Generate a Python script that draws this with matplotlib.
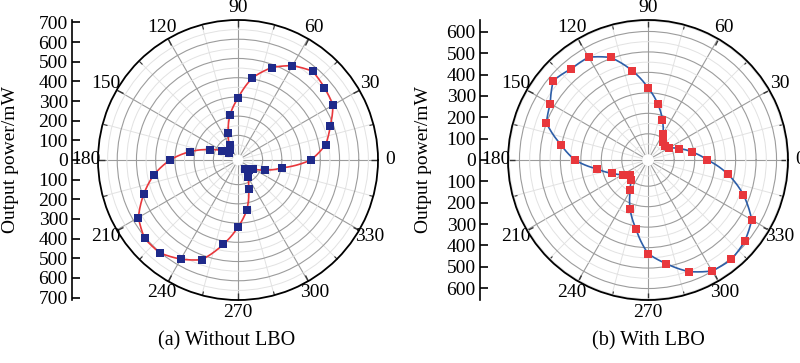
import numpy as np
import matplotlib
matplotlib.use("Agg")
import matplotlib.pyplot as plt

plt.rcParams['font.family'] = ['Liberation Serif', 'DejaVu Serif']

# polarization angle in degrees, one point every 10 degrees
angles = np.arange(0, 360, 10)

# (a) without LBO, output power in mW
power_a = [350, 435, 482, 542, 558, 575, 538, 483, 406, 293,
           210, 120, 60, 40, 30, 70, 128, 223, 325, 416,
           494, 570, 606, 603, 567, 524, 418, 320, 235, 134,
           73, 31, 50, 65, 124, 205]

# (b) with LBO, output power in mW
power_b = [262, 192, 135, 88, 80, 84, 118, 178, 249, 325,
           415, 505, 552, 554, 576, 523, 500, 404, 329, 223,
           161, 115, 87, 98, 144, 227, 312, 429, 486, 552,
           598, 606, 589, 557, 468, 368]

theta_labels = ['0', '30', '60', '90', '120', '150',
                '180', '210', '240', '270', '300', '330']

W, H = 800, 363
fig = plt.figure(figsize=(W / 100, H / 100), dpi=100)


def polar_panel(cx, rmax, vals, mcolor, lcolor):
    R = 140
    ax = fig.add_axes([(cx - R) / W, (H - 160 - R) / H, 2 * R / W, 2 * R / H],
                      projection='polar')
    ax.set_rorigin(-28)
    ax.set_rlim(0, rmax)
    ax.set_xticks(np.deg2rad(np.arange(0, 360, 30)))
    ax.set_xticklabels(theta_labels, fontsize=14)
    ax.set_xticks(np.deg2rad(np.arange(0, 360, 15)), minor=True)
    ax.set_yticks(np.arange(100, rmax, 100))
    ax.set_yticks(np.arange(50, rmax, 100), minor=True)
    ax.set_yticklabels([])
    # tick1 sits on the inner hole, tick2 on the outer circle
    ax.tick_params(axis='x', which='major', pad=2, direction='in', length=5,
                   width=1, color='#333333', tick1On=False, tick2On=True)
    ax.tick_params(axis='x', which='minor', direction='in', length=3,
                   width=0.8, color='#333333', tick1On=False, tick2On=True)
    ax.tick_params(axis='y', which='both', length=0)
    ax.grid(True, which='major', color='#9c9c9c', lw=0.8)
    ax.grid(True, which='minor', color='#e2e2e2', lw=0.7)
    ax.spines['polar'].set_linewidth(1.3)
    ax.spines['polar'].set_color('black')
    # draw() switches the inner spine back on, so just make it invisible ink
    ax.spines['inner'].set_color('none')

    th = np.deg2rad(np.append(angles, 360))
    r = np.append(vals, vals[0])
    ln, = ax.plot(th, r, color=lcolor, lw=1.2, zorder=3)
    # let the polar transform bend each segment instead of a straight chord
    ln.get_path()._interpolation_steps = 20
    ax.plot(np.deg2rad(angles), vals, 's', color=mcolor, ms=5.5, mew=0, zorder=4)
    return ax


def side_axis(x, lim, ticks, label_x):
    ax = fig.add_axes([x / W, (H - 300) / H, 0.02, 280 / H])
    ax.set_ylim(-lim, lim)
    ax.set_yticks(ticks)
    ax.set_yticklabels([str(abs(t)) for t in ticks], fontsize=14)
    for s in ['top', 'right', 'bottom']:
        ax.spines[s].set_visible(False)
    ax.spines['left'].set_linewidth(1.2)
    ax.set_xticks([])
    ax.patch.set_alpha(0)
    ax.tick_params(axis='y', direction='in', length=6, width=1.2, pad=3)
    fig.text(label_x / W, 1 - 160 / H, 'Output power/mW', rotation=90,
             ha='center', va='center', fontsize=14)


polar_panel(238, 700, power_a, '#1f2a8a', '#e8373c')
polar_panel(648, 656, power_b, '#e8373c', '#2d5ea8')

side_axis(72, 712, np.arange(-700, 701, 100), 11)
side_axis(480, 656, np.arange(-600, 601, 100), 423)

fig.text(227 / W, 1 - 341 / H, '(a) Without LBO', ha='center', va='center', fontsize=14.5)
fig.text(648 / W, 1 - 341 / H, '(b) With LBO', ha='center', va='center', fontsize=14.5)

fig.savefig('out.png', dpi=100)
